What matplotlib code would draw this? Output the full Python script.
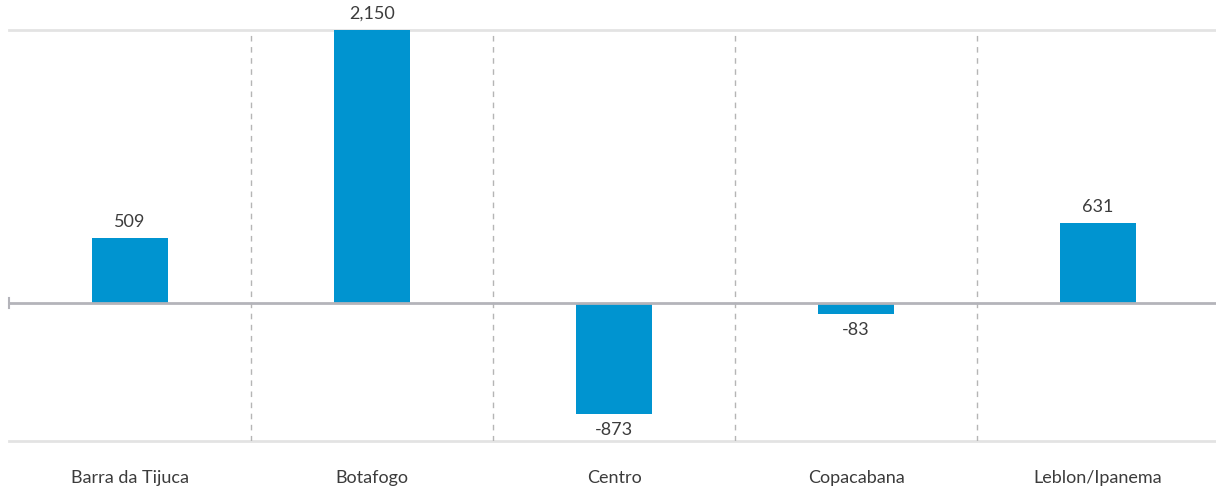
import numpy as np
import matplotlib.pyplot as plt

bairros = ['Barra da Tijuca', 'Botafogo', 'Centro', 'Copacabana', 'Leblon/Ipanema']
saldo = [509, 2150, -873, -83, 631]

plt.rcParams['font.family'] = ['Lato', 'DejaVu Sans']

azul = '#0094d0'
txt = '#3c3c3c'

fig = plt.figure(figsize=(12.16, 4.88), dpi=100)
ax = fig.add_axes([0.0074, 0.0963, 0.9951, 0.8422])

x = np.arange(len(bairros))
bars = ax.bar(x, saldo, width=0.314, color=azul, zorder=3)

ymin, ymax = -1087, max(saldo)
ax.set_ylim(ymin, ymax)
ax.set_xlim(-0.5, len(bairros) - 0.5)

# linhas de grade: topo, base e zero
ax.axhline(ymax, color='#e3e3e3', lw=2, zorder=1, clip_on=False)
ax.axhline(ymin, color='#e3e3e3', lw=2, zorder=1, clip_on=False)
ax.axhline(0, color='#b4b4ba', lw=2, zorder=4)
ax.plot([-0.5, -0.5], [-40, 40], color='#b4b4ba', lw=1.5, zorder=4, clip_on=False)

# separadores tracejados
for s in x[:-1] + 0.5:
    ax.axvline(s, color='#b5b5b5', lw=1, ls=(0, (4, 4)), zorder=2)

off = 0.02 * (ymax - ymin)
for xi, v in zip(x, saldo):
    if v >= 0:
        ax.text(xi, v + off, f'{v:,}', ha='center', va='bottom', fontsize=13, color=txt)
    else:
        ax.text(xi, v - off, f'{v:,}', ha='center', va='top', fontsize=13, color=txt)

ax.set_xticks(x)
ax.set_xticklabels(bairros, fontsize=13, color=txt)
ax.tick_params(axis='x', length=0, pad=21)
ax.set_yticks([])
for sp in ax.spines.values():
    sp.set_visible(False)

fig.savefig('out.png', dpi=100)
